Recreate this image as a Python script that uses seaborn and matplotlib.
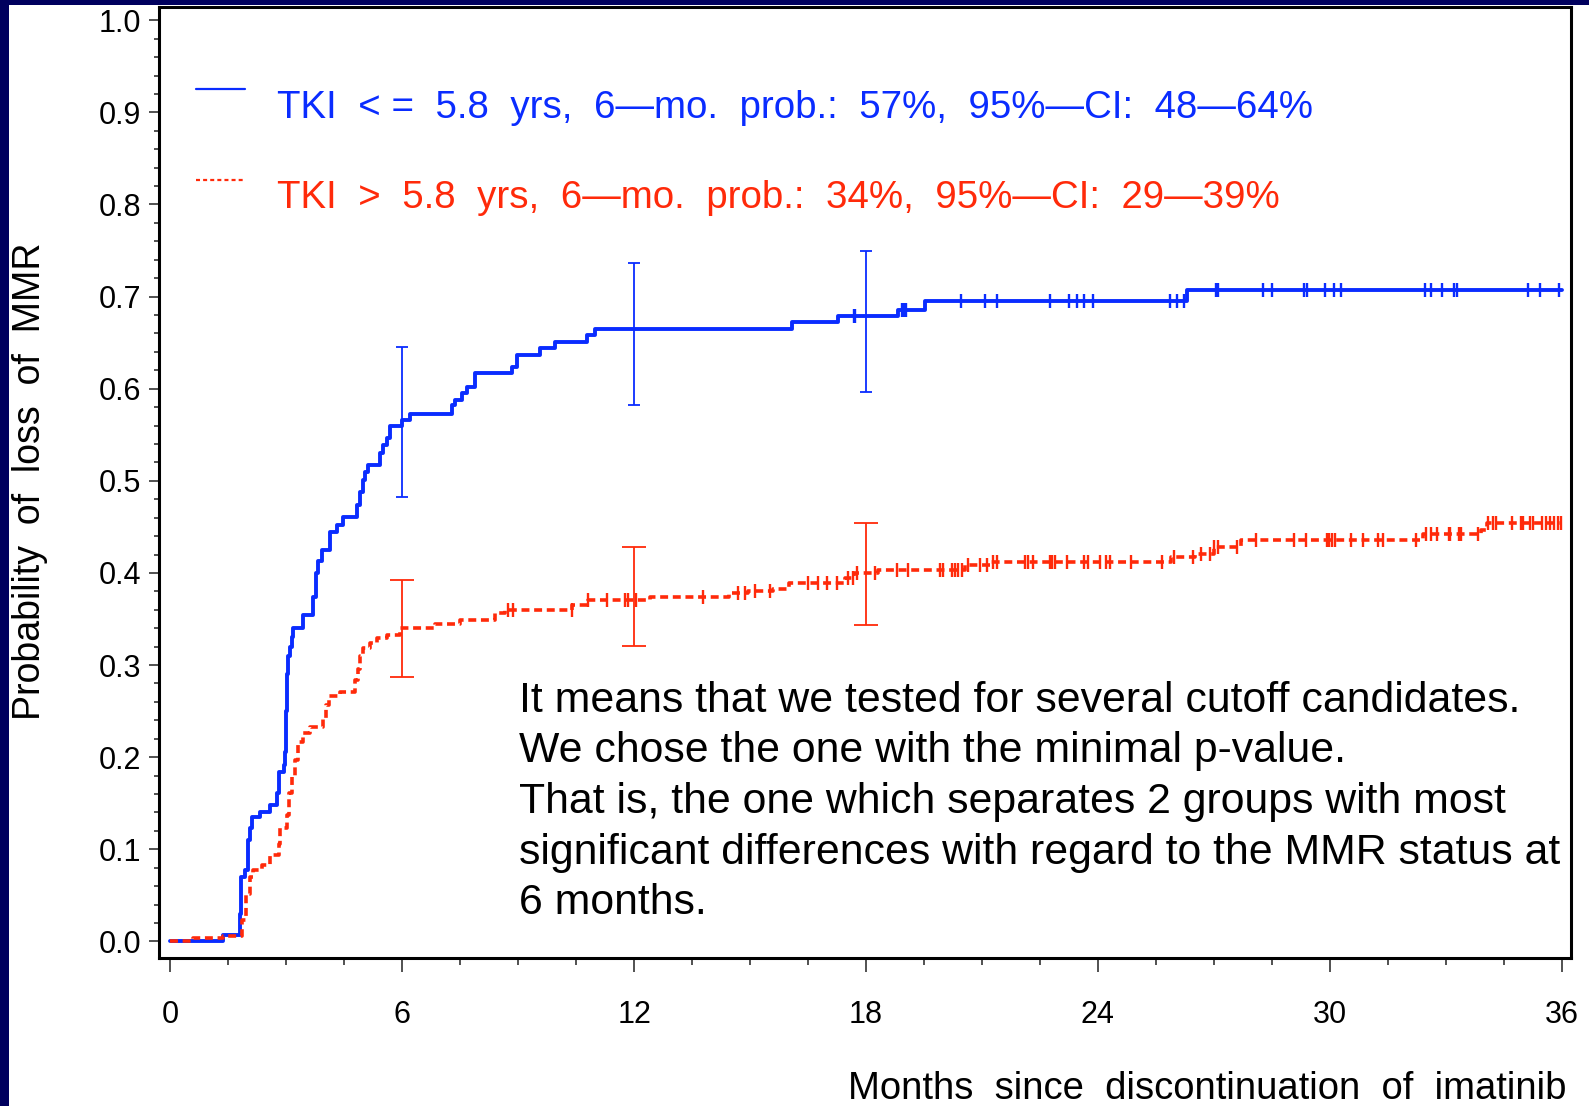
import numpy as np
import pandas as pd
import matplotlib
matplotlib.use("Agg")
import matplotlib.pyplot as plt
from matplotlib.patches import Rectangle
from matplotlib.ticker import MultipleLocator, FormatStrFormatter
import seaborn as sns

# ---------------- data ----------------
# TKI <= 5.8 yrs : step times (months) and cumulative probability of loss of MMR
blue_t = [0.0, 1.37, 1.80, 1.83, 1.93, 2.02, 2.06, 2.12, 2.33, 2.58, 2.76, 2.80, 2.93,
          2.97, 3.00, 3.02, 3.05, 3.09, 3.14, 3.18, 3.44, 3.70, 3.76, 3.82, 3.92, 4.13,
          4.31, 4.48, 4.82, 4.91, 4.99, 5.05, 5.12, 5.43, 5.51, 5.60, 5.68, 5.99, 6.20,
          7.28, 7.37, 7.54, 7.67, 7.88, 8.83, 8.96, 9.57, 9.95, 10.77, 10.99, 16.08,
          17.28, 18.83, 19.53, 26.30, 36.0]
blue_p = [0.0, 0.007, 0.030, 0.070, 0.078, 0.110, 0.123, 0.135, 0.141, 0.148, 0.161,
          0.184, 0.192, 0.206, 0.250, 0.290, 0.310, 0.320, 0.330, 0.340, 0.354, 0.374,
          0.400, 0.413, 0.425, 0.445, 0.452, 0.461, 0.474, 0.488, 0.501, 0.510, 0.517,
          0.530, 0.539, 0.546, 0.559, 0.566, 0.573, 0.582, 0.588, 0.595, 0.602, 0.617,
          0.624, 0.637, 0.644, 0.651, 0.658, 0.665, 0.672, 0.679, 0.686, 0.695, 0.707,
          0.707]
blue_cens = [17.69, 17.72, 18.92, 18.99, 19.03, 20.47, 21.07, 21.38, 22.76, 23.25, 23.47,
             23.65, 23.87, 25.87, 26.05, 26.22, 27.05, 27.08, 27.11, 28.27, 28.50, 29.34,
             29.41, 29.87, 30.10, 30.28, 32.45, 32.63, 32.90, 33.21, 33.30, 35.12, 35.43,
             35.92]

# TKI > 5.8 yrs
red_t = [0.0, 0.60, 1.37, 1.85, 1.96, 2.05, 2.15, 2.37, 2.58, 2.80, 2.84, 3.02, 3.08,
         3.14, 3.22, 3.31, 3.44, 3.62, 3.96, 4.02, 4.10, 4.40, 4.78, 4.85, 4.92, 4.99,
         5.16, 5.34, 5.60, 5.95, 6.86, 7.50, 8.40, 8.66, 10.40, 10.80, 12.40, 14.45,
         14.95, 15.60, 16.00, 17.45, 17.70, 18.30, 20.55, 21.20, 25.90, 26.50, 27.00,
         27.70, 32.40, 33.90, 34.06, 36.0]
red_p = [0.0, 0.004, 0.006, 0.023, 0.052, 0.070, 0.078, 0.083, 0.094, 0.106, 0.123,
         0.137, 0.161, 0.179, 0.197, 0.217, 0.226, 0.233, 0.242, 0.257, 0.266, 0.271,
         0.284, 0.296, 0.310, 0.318, 0.324, 0.329, 0.333, 0.340, 0.345, 0.349, 0.356,
         0.360, 0.365, 0.371, 0.374, 0.378, 0.380, 0.383, 0.389, 0.394, 0.400, 0.403,
         0.409, 0.412, 0.417, 0.421, 0.428, 0.436, 0.442, 0.447, 0.454, 0.454]
red_cens = [8.75, 8.87, 10.39, 10.81, 11.29, 11.77, 11.85, 12.05, 13.79, 14.70, 14.87,
            15.13, 15.52, 16.51, 16.77, 16.98, 17.24, 17.54, 17.67, 17.76, 18.23, 18.79,
            19.09, 19.91, 20.00, 20.22, 20.30, 20.39, 20.48, 20.65, 20.95, 21.12, 21.29,
            21.38, 22.11, 22.20, 22.33, 22.76, 22.80, 22.89, 23.20, 23.65, 23.74, 24.05,
            24.22, 24.31, 24.85, 25.65, 25.96, 26.45, 26.68, 26.90, 27.00, 27.11, 27.61,
            28.10, 29.07, 29.38, 29.92, 29.99, 30.06, 30.14, 30.54, 30.85, 31.25, 31.38,
            32.23, 32.50, 32.63, 32.77, 33.08, 33.12, 33.35, 33.40, 33.83, 34.10, 34.22,
            34.31, 34.72, 34.94, 34.99, 35.17, 35.26, 35.50, 35.60, 35.70, 35.80, 35.90,
            35.99]

ci_months = [6, 12, 18]
blue_ci_lo = [0.482, 0.582, 0.596]
blue_ci_hi = [0.645, 0.737, 0.750]
red_ci_lo = [0.287, 0.321, 0.344]
red_ci_hi = [0.392, 0.428, 0.454]

x_ticks = [0, 6, 12, 18, 24, 30, 36]
legend_blue = "TKI  < =  5.8  yrs,  6\u2014mo.  prob.:  57%,  95%\u2014CI:  48\u201464%"
legend_red = "TKI  >  5.8  yrs,  6\u2014mo.  prob.:  34%,  95%\u2014CI:  29\u201439%"
note_lines = ["It means that we tested for several cutoff candidates.",
              "We chose the one with the minimal p-value.",
              "That is, the one which separates 2 groups with most",
              "significant differences with regard to the MMR status at",
              "6 months."]
ylabel = "Probability  of  loss  of  MMR"
xlabel = "Months  since  discontinuation  of  imatinib"

# ---------------- style ----------------
BLUE = "#0a2cff"
RED = "#ff2a0a"
NAVY = "#00005e"

sns.set_theme(style="ticks")
plt.rcParams["font.family"] = ["Liberation Sans", "DejaVu Sans"]

W, H = 1589, 1106
fig = plt.figure(figsize=(W / 100, H / 100), dpi=100, facecolor=NAVY)
fig.patches.append(Rectangle((9 / W, 0), 1 - 9 / W, 1 - 5 / H, transform=fig.transFigure,
                             facecolor="white", edgecolor="none", zorder=-10))

def fx(px):
    return px / W

def fy(py):
    return 1 - py / H

ax = fig.add_axes([fx(159), fy(958), (1571 - 159) / W, (958 - 7) / H])
ax.set_zorder(2)
ax.set_facecolor("white")

def step_value(ts, ps, t):
    idx = np.searchsorted(ts, t, side="right") - 1
    return np.asarray(ps)[idx]

df_blue = pd.DataFrame({"t": blue_t, "p": blue_p})
df_red = pd.DataFrame({"t": red_t, "p": red_p})

sns.lineplot(data=df_blue, x="t", y="p", estimator=None, sort=False, ax=ax,
             color=BLUE, linewidth=2.8, drawstyle="steps-post", zorder=4)
sns.lineplot(data=df_red, x="t", y="p", estimator=None, sort=False, ax=ax,
             color=RED, linewidth=2.6, drawstyle="steps-post",
             linestyle=(0, (2.2, 1.3)), zorder=4)

bc = pd.DataFrame({"t": blue_cens, "p": step_value(blue_t, blue_p, np.array(blue_cens))})
rc = pd.DataFrame({"t": red_cens, "p": step_value(red_t, red_p, np.array(red_cens))})
sns.scatterplot(data=bc, x="t", y="p", marker="|", s=95, color=BLUE, linewidth=1.7,
                ax=ax, zorder=5)
sns.scatterplot(data=rc, x="t", y="p", marker="|", s=95, color=RED, linewidth=1.7,
                ax=ax, zorder=5)

bmid = step_value(blue_t, blue_p, np.array(ci_months))
rmid = step_value(red_t, red_p, np.array(ci_months))
ax.errorbar(ci_months, bmid, yerr=[bmid - np.array(blue_ci_lo), np.array(blue_ci_hi) - bmid],
            fmt="none", ecolor=BLUE, elinewidth=1.3, capsize=4.2, capthick=1.3, zorder=3)
ax.errorbar(ci_months, rmid, yerr=[rmid - np.array(red_ci_lo), np.array(red_ci_hi) - rmid],
            fmt="none", ecolor=RED, elinewidth=1.3, capsize=8.4, capthick=1.3, zorder=3)

ax.set_xlim(-0.292, 36.24)
ax.set_ylim(-0.018, 1.0144)
ax.set_xticks(x_ticks)
ax.xaxis.set_minor_locator(MultipleLocator(1.5))
ax.yaxis.set_major_locator(MultipleLocator(0.1))
ax.yaxis.set_minor_locator(MultipleLocator(0.02))
ax.yaxis.set_major_formatter(FormatStrFormatter("%.1f"))
ax.set_xlabel("")
ax.set_ylabel("")

for s in ax.spines.values():
    s.set_visible(True)
    s.set_linewidth(2.2)
    s.set_color("black")

ax.tick_params(axis="x", which="major", direction="out", length=10, width=1.1,
               pad=20, labelsize=22, colors="#222222", labelcolor="black")
ax.tick_params(axis="x", which="minor", direction="out", length=5, width=1.1,
               colors="#222222")
ax.tick_params(axis="y", which="major", direction="out", length=7, width=1.1,
               pad=6, labelsize=22, colors="#222222", labelcolor="black")
ax.tick_params(axis="y", which="minor", direction="out", length=3.3, width=1.1,
               colors="#222222")

# legend (drawn as in the original SAS output)
def axx(px):
    return (px - 159) / (1571 - 159)

def axy(py):
    return (958 - py) / (958 - 7)

ax.plot([axx(196), axx(245)], [axy(89), axy(89)], transform=ax.transAxes,
        color=BLUE, linewidth=1.6, clip_on=False)
ax.plot([axx(196), axx(245)], [axy(180), axy(180)], transform=ax.transAxes,
        color=RED, linewidth=1.6, linestyle=(0, (1.8, 1.4)), clip_on=False)
ax.text(axx(277), axy(117.5), legend_blue, transform=ax.transAxes, color=BLUE,
        fontsize=27.7, ha="left", va="baseline")
ax.text(axx(277), axy(207.5), legend_red, transform=ax.transAxes, color=RED,
        fontsize=27.7, ha="left", va="baseline")

for i, line in enumerate(note_lines):
    ax.text(axx(519), axy(711.5 + 50.7 * i), line, transform=ax.transAxes,
            color="black", fontsize=30.8, ha="left", va="baseline")

fig.text(fx(30.5), fy(481), ylabel, rotation=90, ha="center", va="center",
         fontsize=27, color="black")
fig.text(fx(1566), fy(1099), xlabel, ha="right", va="baseline", fontsize=27.5,
         color="black")

fig.savefig("out.png", dpi=100, facecolor=NAVY)
